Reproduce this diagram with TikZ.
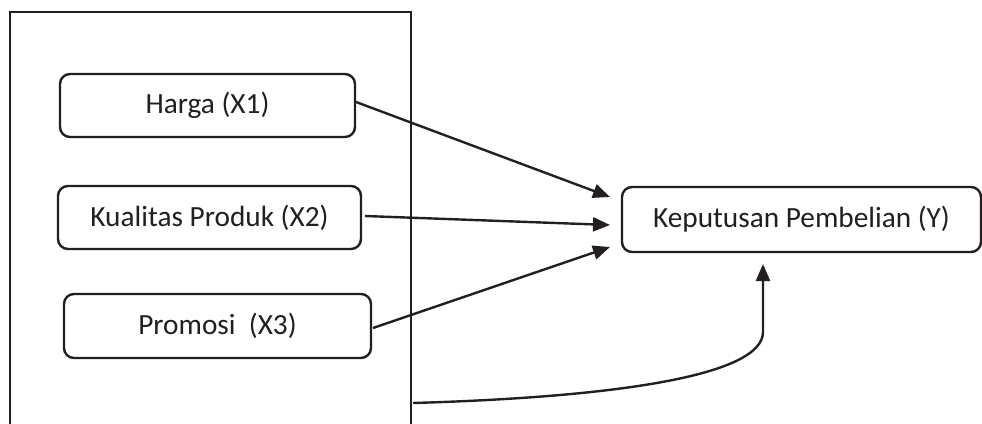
\documentclass[tikz,border=0pt]{standalone}
\usepackage{fontspec}
\setmainfont{Carlito}
\usetikzlibrary{arrows.meta,calc}
\definecolor{ink}{HTML}{231F20}
\tikzset{
  varbox/.style={draw=ink, line width=2.4pt, rounded corners=10pt, fill=white,
    font=\fontsize{29.3}{32}\selectfont, text=ink, inner sep=0pt},
  conn/.style={draw=ink, line width=2.4pt, -{Triangle[length=17pt,width=14pt]}},
}
\begin{document}
\begin{tikzpicture}[x=1pt,y=1pt]
\useasboundingbox (0,0) rectangle (982,-423);
% outer frame
\draw[ink, line width=2.4pt] (10,-425) -- (10,-12) -- (411,-12) -- (411,-425);
% nodes
\node[varbox, minimum width=295pt, minimum height=63pt] (harga) at (207.5,-105.5) {Harga (X1)};
\node[varbox, minimum width=303pt, minimum height=63pt] (kual) at (209.5,-217.5) {Kualitas Produk (X2)};
\node[varbox, minimum width=307pt, minimum height=64pt] (prom) at (217.5,-326) {Promosi\ \ (X3)};
\node[varbox, minimum width=359pt, minimum height=65pt] (kep) at (801.5,-219.5) {Keputusan Pembelian (Y)};
% coordinates
\coordinate (s1) at (356,-102);
\coordinate (s2) at (365,-216);
\coordinate (s3) at (373,-328);
\coordinate (s4) at (413,-403);
\coordinate (t1) at (610,-197);
\coordinate (t2) at (610,-225);
\coordinate (t3) at (610,-247);
\coordinate (t4) at (763,-264);
% connectors
\draw[conn] (s1) -- (t1);
\draw[conn] (s2) -- (t2);
\draw[conn] (s3) -- (t3);
\draw[conn] (s4) .. controls (620,-397) and (763,-375) .. (763,-332) -- (t4);
\end{tikzpicture}
\end{document}
